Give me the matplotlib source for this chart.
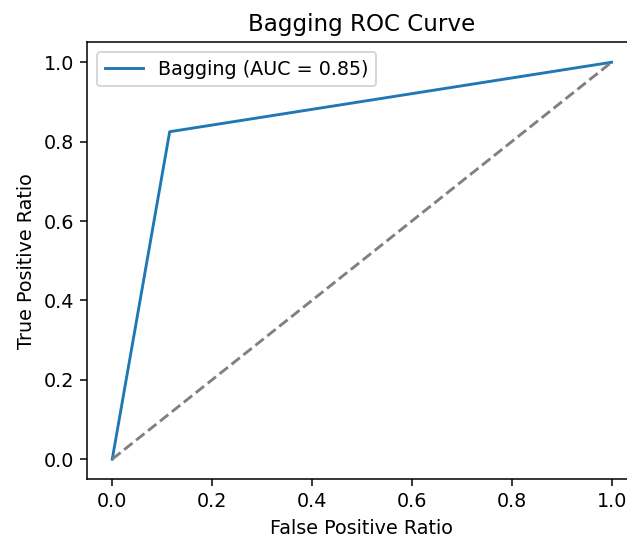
import matplotlib
matplotlib.use("Agg")
import matplotlib.pyplot as plt

# ROC points for the bagging classifier
fpr = [0.0, 0.115, 1.0]
tpr = [0.0, 0.825, 1.0]
auc_value = 0.85
chance = [0.0, 1.0]

DPI = 138
fig = plt.figure(figsize=(627 / DPI, 539 / DPI), dpi=DPI)
ax = fig.add_axes([0.1392, 0.1113, 0.876, 0.810])

ax.plot(fpr, tpr, color="#1f77b4", label=f"Bagging (AUC = {auc_value:.2f})")
ax.plot(chance, chance, color="gray", linestyle="--")

ax.set_title("Bagging ROC Curve")
ax.set_xlabel("False Positive Ratio")
ax.set_ylabel("True Positive Ratio")
ax.legend(loc="upper left")

fig.savefig("out.png", dpi=DPI)
